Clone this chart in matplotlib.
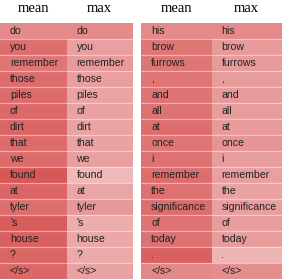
import matplotlib
matplotlib.use('Agg')
import matplotlib.pyplot as plt
from matplotlib.colors import LinearSegmentedColormap
import numpy as np

#%%
# Tokens and attention weights (0..1 intensity)
left_tokens = ['do', 'you', 'remember', 'those', 'piles', 'of', 'dirt', 'that',
               'we', 'found', 'at', 'tyler', "'s", 'house', '?', '</s>']
left_mean = [0.60, 0.74, 0.71, 0.75, 0.76, 0.77, 0.79, 0.76,
             0.75, 0.86, 0.79, 0.74, 0.83, 0.81, 0.79, 0.78]
left_max = [0.60, 0.49, 0.52, 0.49, 0.47, 0.48, 0.47, 0.48,
            0.49, 0.36, 0.46, 0.53, 0.42, 0.45, 0.44, 0.48]

right_tokens = ['his', 'brow', 'furrows', ',', 'and', 'all', 'at', 'once',
                'i', 'remember', 'the', 'significance', 'of', 'today', '.', '</s>']
right_mean = [0.60, 0.71, 0.70, 0.71, 0.72, 0.73, 0.74, 0.71,
              0.73, 0.74, 0.73, 0.75, 0.72, 0.73, 0.81, 0.61]
right_max = [0.60, 0.52, 0.52, 0.50, 0.52, 0.50, 0.52, 0.55,
             0.50, 0.49, 0.48, 0.49, 0.51, 0.51, 0.39, 0.58]

headers = ['mean', 'max']

#%%
cmap = LinearSegmentedColormap.from_list('w2r', ['white', (210/255, 60/255, 60/255)])

W, H = 283, 279
fig = plt.figure(figsize=(W/100, H/100), dpi=100)

def draw_panel(x0, width, tokens, mean, mx):
    ax = fig.add_axes([x0/W, 0, width/W, 256/H])
    vals = np.array([mean, mx]).T
    n = len(tokens)
    ax.pcolormesh(np.arange(3), np.arange(n+1), vals, cmap=cmap, vmin=0, vmax=1)
    for y in range(1, n):
        ax.axhline(y, color='white', alpha=0.45, lw=0.9)
    for i, tok in enumerate(tokens):
        for j in range(2):
            ax.text(j + 10/(width/2), i + 0.5, tok, ha='left', va='center',
                    fontsize=7.6, family='Liberation Sans', color='#222222')
    ax.set_xlim(0, 2)
    ax.set_ylim(n, 0)
    ax.axis('off')
    # column headers
    for j, h in enumerate(headers):
        fig.text((x0 + width*(j+0.5)/2)/W, 1 - 9/H, h, ha='center', va='center',
                 fontsize=10.5, family='Liberation Serif')

draw_panel(0, 133, left_tokens, left_mean, left_max)
draw_panel(141, 141, right_tokens, right_mean, right_max)

fig.savefig('out.png', dpi=100)
